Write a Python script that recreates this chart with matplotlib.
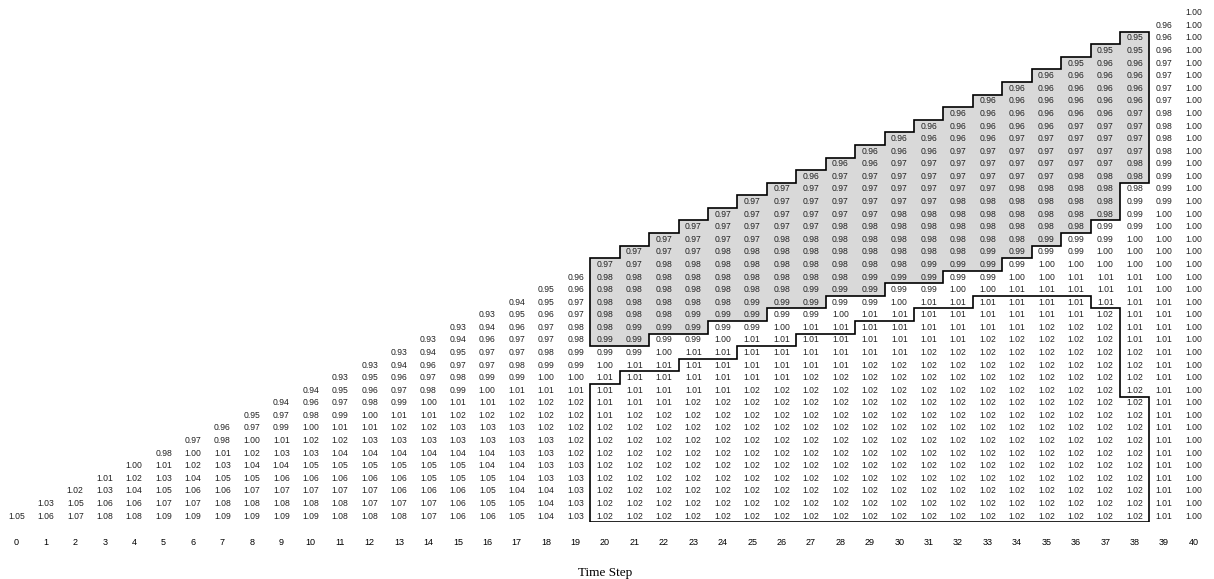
import matplotlib.pyplot as plt
from matplotlib.patches import Polygon

# values per time step, listed from the bottom row upward
col_00 = [1.05]
col_01 = [1.06, 1.03]
col_02 = [1.07, 1.05, 1.02]
col_03 = [1.08, 1.06, 1.03, 1.01]
col_04 = [1.08, 1.06, 1.04, 1.02, 1.00]
col_05 = [1.09, 1.07, 1.05, 1.03, 1.01, 0.98]
col_06 = [1.09, 1.07, 1.06, 1.04, 1.02, 1.00, 0.97]
col_07 = [1.09, 1.08, 1.06, 1.05, 1.03, 1.01, 0.98, 0.96]
col_08 = [1.09, 1.08, 1.07, 1.05, 1.04, 1.02, 1.00, 0.97, 0.95]
col_09 = [1.09, 1.08, 1.07, 1.06, 1.04, 1.03, 1.01, 0.99, 0.97, 0.94]
col_10 = [1.09, 1.08, 1.07, 1.06, 1.05, 1.03, 1.02, 1.00, 0.98, 0.96, 0.94]
col_11 = [1.08, 1.08, 1.07, 1.06, 1.05, 1.04, 1.02, 1.01, 0.99, 0.97, 0.95, 0.93]
col_12 = [1.08, 1.07, 1.07, 1.06, 1.05, 1.04, 1.03, 1.01, 1.00, 0.98, 0.96, 0.95,
          0.93]
col_13 = [1.08, 1.07, 1.06, 1.06, 1.05, 1.04, 1.03, 1.02, 1.01, 0.99, 0.97, 0.96,
          0.94, 0.93]
col_14 = [1.07, 1.07, 1.06, 1.05, 1.05, 1.04, 1.03, 1.02, 1.01, 1.00, 0.98, 0.97,
          0.96, 0.94, 0.93]
col_15 = [1.06, 1.06, 1.06, 1.05, 1.05, 1.04, 1.03, 1.03, 1.02, 1.01, 0.99, 0.98,
          0.97, 0.95, 0.94, 0.93]
col_16 = [1.06, 1.05, 1.05, 1.05, 1.04, 1.04, 1.03, 1.03, 1.02, 1.01, 1.00, 0.99,
          0.97, 0.97, 0.96, 0.94, 0.93]
col_17 = [1.05, 1.05, 1.04, 1.04, 1.04, 1.03, 1.03, 1.03, 1.02, 1.02, 1.01, 0.99,
          0.98, 0.97, 0.97, 0.96, 0.95, 0.94]
col_18 = [1.04, 1.04, 1.04, 1.03, 1.03, 1.03, 1.03, 1.02, 1.02, 1.02, 1.01, 1.00,
          0.99, 0.98, 0.97, 0.97, 0.96, 0.95, 0.95]
col_19 = [1.03, 1.03, 1.03, 1.03, 1.03, 1.02, 1.02, 1.02, 1.02, 1.02, 1.01, 1.00,
          0.99, 0.99, 0.98, 0.98, 0.97, 0.97, 0.96, 0.96]
col_20 = [1.02, 1.02, 1.02, 1.02, 1.02, 1.02, 1.02, 1.02, 1.01, 1.01, 1.01, 1.01,
          1.00, 0.99, 0.99, 0.98, 0.98, 0.98, 0.98, 0.98, 0.97]
col_21 = [1.02, 1.02, 1.02, 1.02, 1.02, 1.02, 1.02, 1.02, 1.02, 1.01, 1.01, 1.01,
          1.01, 0.99, 0.99, 0.99, 0.98, 0.98, 0.98, 0.98, 0.97, 0.97]
col_22 = [1.02, 1.02, 1.02, 1.02, 1.02, 1.02, 1.02, 1.02, 1.02, 1.01, 1.01, 1.01,
          1.01, 1.00, 0.99, 0.99, 0.98, 0.98, 0.98, 0.98, 0.98, 0.97, 0.97]
col_23 = [1.02, 1.02, 1.02, 1.02, 1.02, 1.02, 1.02, 1.02, 1.02, 1.02, 1.01, 1.01,
          1.01, 1.01, 0.99, 0.99, 0.99, 0.98, 0.98, 0.98, 0.98, 0.97, 0.97, 0.97]
col_24 = [1.02, 1.02, 1.02, 1.02, 1.02, 1.02, 1.02, 1.02, 1.02, 1.02, 1.01, 1.01,
          1.01, 1.01, 1.00, 0.99, 0.99, 0.98, 0.98, 0.98, 0.98, 0.98, 0.97, 0.97,
          0.97]
col_25 = [1.02, 1.02, 1.02, 1.02, 1.02, 1.02, 1.02, 1.02, 1.02, 1.02, 1.02, 1.01,
          1.01, 1.01, 1.01, 0.99, 0.99, 0.99, 0.98, 0.98, 0.98, 0.98, 0.97, 0.97,
          0.97, 0.97]
col_26 = [1.02, 1.02, 1.02, 1.02, 1.02, 1.02, 1.02, 1.02, 1.02, 1.02, 1.02, 1.01,
          1.01, 1.01, 1.01, 1.00, 0.99, 0.99, 0.98, 0.98, 0.98, 0.98, 0.98, 0.97,
          0.97, 0.97, 0.97]
col_27 = [1.02, 1.02, 1.02, 1.02, 1.02, 1.02, 1.02, 1.02, 1.02, 1.02, 1.02, 1.02,
          1.01, 1.01, 1.01, 1.01, 0.99, 0.99, 0.99, 0.98, 0.98, 0.98, 0.98, 0.97,
          0.97, 0.97, 0.97, 0.96]
col_28 = [1.02, 1.02, 1.02, 1.02, 1.02, 1.02, 1.02, 1.02, 1.02, 1.02, 1.02, 1.02,
          1.01, 1.01, 1.01, 1.01, 1.00, 0.99, 0.99, 0.98, 0.98, 0.98, 0.98, 0.98,
          0.97, 0.97, 0.97, 0.97, 0.96]
col_29 = [1.02, 1.02, 1.02, 1.02, 1.02, 1.02, 1.02, 1.02, 1.02, 1.02, 1.02, 1.02,
          1.02, 1.01, 1.01, 1.01, 1.01, 0.99, 0.99, 0.99, 0.98, 0.98, 0.98, 0.98,
          0.97, 0.97, 0.97, 0.97, 0.96, 0.96]
col_30 = [1.02, 1.02, 1.02, 1.02, 1.02, 1.02, 1.02, 1.02, 1.02, 1.02, 1.02, 1.02,
          1.02, 1.01, 1.01, 1.01, 1.01, 1.00, 0.99, 0.99, 0.98, 0.98, 0.98, 0.98,
          0.98, 0.97, 0.97, 0.97, 0.97, 0.96, 0.96]
col_31 = [1.02, 1.02, 1.02, 1.02, 1.02, 1.02, 1.02, 1.02, 1.02, 1.02, 1.02, 1.02,
          1.02, 1.02, 1.01, 1.01, 1.01, 1.01, 0.99, 0.99, 0.99, 0.98, 0.98, 0.98,
          0.98, 0.97, 0.97, 0.97, 0.97, 0.96, 0.96, 0.96]
col_32 = [1.02, 1.02, 1.02, 1.02, 1.02, 1.02, 1.02, 1.02, 1.02, 1.02, 1.02, 1.02,
          1.02, 1.02, 1.01, 1.01, 1.01, 1.01, 1.00, 0.99, 0.99, 0.98, 0.98, 0.98,
          0.98, 0.98, 0.97, 0.97, 0.97, 0.97, 0.96, 0.96, 0.96]
col_33 = [1.02, 1.02, 1.02, 1.02, 1.02, 1.02, 1.02, 1.02, 1.02, 1.02, 1.02, 1.02,
          1.02, 1.02, 1.02, 1.01, 1.01, 1.01, 1.00, 0.99, 0.99, 0.99, 0.98, 0.98,
          0.98, 0.98, 0.97, 0.97, 0.97, 0.97, 0.96, 0.96, 0.96, 0.96]
col_34 = [1.02, 1.02, 1.02, 1.02, 1.02, 1.02, 1.02, 1.02, 1.02, 1.02, 1.02, 1.02,
          1.02, 1.02, 1.02, 1.01, 1.01, 1.01, 1.01, 1.00, 0.99, 0.99, 0.98, 0.98,
          0.98, 0.98, 0.98, 0.97, 0.97, 0.97, 0.97, 0.96, 0.96, 0.96, 0.96]
col_35 = [1.02, 1.02, 1.02, 1.02, 1.02, 1.02, 1.02, 1.02, 1.02, 1.02, 1.02, 1.02,
          1.02, 1.02, 1.02, 1.02, 1.01, 1.01, 1.01, 1.00, 1.00, 0.99, 0.99, 0.98,
          0.98, 0.98, 0.98, 0.97, 0.97, 0.97, 0.97, 0.96, 0.96, 0.96, 0.96, 0.96]
col_36 = [1.02, 1.02, 1.02, 1.02, 1.02, 1.02, 1.02, 1.02, 1.02, 1.02, 1.02, 1.02,
          1.02, 1.02, 1.02, 1.02, 1.01, 1.01, 1.01, 1.01, 1.00, 0.99, 0.99, 0.98,
          0.98, 0.98, 0.98, 0.98, 0.97, 0.97, 0.97, 0.97, 0.96, 0.96, 0.96, 0.96,
          0.95]
col_37 = [1.02, 1.02, 1.02, 1.02, 1.02, 1.02, 1.02, 1.02, 1.02, 1.02, 1.02, 1.02,
          1.02, 1.02, 1.02, 1.02, 1.02, 1.01, 1.01, 1.01, 1.00, 1.00, 0.99, 0.99,
          0.98, 0.98, 0.98, 0.98, 0.97, 0.97, 0.97, 0.97, 0.96, 0.96, 0.96, 0.96,
          0.96, 0.95]
col_38 = [1.02, 1.02, 1.02, 1.02, 1.02, 1.02, 1.02, 1.02, 1.02, 1.02, 1.02, 1.02,
          1.02, 1.02, 1.01, 1.01, 1.01, 1.01, 1.01, 1.01, 1.00, 1.00, 1.00, 0.99,
          0.99, 0.99, 0.98, 0.98, 0.98, 0.97, 0.97, 0.97, 0.97, 0.96, 0.96, 0.96,
          0.96, 0.95, 0.95]
col_39 = [1.01, 1.01, 1.01, 1.01, 1.01, 1.01, 1.01, 1.01, 1.01, 1.01, 1.01, 1.01,
          1.01, 1.01, 1.01, 1.01, 1.01, 1.01, 1.00, 1.00, 1.00, 1.00, 1.00, 1.00,
          1.00, 0.99, 0.99, 0.99, 0.99, 0.98, 0.98, 0.98, 0.98, 0.97, 0.97, 0.97,
          0.97, 0.96, 0.96, 0.96]
col_40 = [1.00, 1.00, 1.00, 1.00, 1.00, 1.00, 1.00, 1.00, 1.00, 1.00, 1.00, 1.00,
          1.00, 1.00, 1.00, 1.00, 1.00, 1.00, 1.00, 1.00, 1.00, 1.00, 1.00, 1.00,
          1.00, 1.00, 1.00, 1.00, 1.00, 1.00, 1.00, 1.00, 1.00, 1.00, 1.00, 1.00,
          1.00, 1.00, 1.00, 1.00, 1.00]

columns = [col_00, col_01, col_02, col_03, col_04, col_05, col_06, col_07, col_08,
           col_09, col_10, col_11, col_12, col_13, col_14, col_15, col_16, col_17,
           col_18, col_19, col_20, col_21, col_22, col_23, col_24, col_25, col_26,
           col_27, col_28, col_29, col_30, col_31, col_32, col_33, col_34, col_35,
           col_36, col_37, col_38, col_39, col_40]
time_steps = list(range(len(columns)))

# marked blocks: time steps 20..38
block_steps = list(range(20, 39))
# lowest row of the grey block in each of those steps
shade_bottom = [14, 14, 15, 15, 16, 16, 17, 17, 18, 18, 19, 19, 20, 20, 21, 22, 23, 24, 27]
# highest row of the lower outlined block
box_top = [10, 11, 11, 12, 12, 13, 13, 14, 14, 15, 15, 16, 16, 17, 17, 17, 17, 16, 9]

plt.rcParams['font.family'] = 'Liberation Sans'

fig = plt.figure(figsize=(12.14, 5.79), dpi=100)
ax = fig.add_axes([0.0014, 0.0979, 0.9939, 0.8908])
ax.set_xlim(-0.5, 40.5)
ax.set_ylim(-0.5, 40.5)

# grey block: top follows the triangle edge, bottom is a staircase
pts = [(19.5, block_steps[0] + 0.5)]
for c in block_steps:
    pts.append((c - 0.5, c + 0.5))
    pts.append((c + 0.5, c + 0.5))
for c, b in zip(reversed(block_steps), reversed(shade_bottom)):
    pts.append((c + 0.5, b - 0.5))
    pts.append((c - 0.5, b - 0.5))
ax.add_patch(Polygon(pts, closed=True, facecolor='#d9d9d9', edgecolor='black',
                     linewidth=1.2, joinstyle='miter', zorder=1))

# lower outlined block
pts = [(19.5, -0.5)]
for c, t in zip(block_steps, box_top):
    pts.append((c - 0.5, t + 0.5))
    pts.append((c + 0.5, t + 0.5))
pts.append((block_steps[-1] + 0.5, -0.5))
ax.add_patch(Polygon(pts, closed=True, facecolor='none', edgecolor='black',
                     linewidth=1.2, joinstyle='miter', zorder=1))

for step, vals in zip(time_steps, columns):
    for row, v in enumerate(vals):
        ax.text(step, row, f'{v:.2f}', ha='center', va='center',
                fontsize=6.2, color='#222222', zorder=2)

ax.set_xticks(time_steps)
ax.set_yticks([])
ax.tick_params(axis='x', length=0, pad=11, labelsize=6.5)
for s in ax.spines.values():
    s.set_visible(False)
ax.set_xlabel('Time Step', fontfamily='Liberation Serif', fontsize=9.5, labelpad=14.5)

plt.savefig('out.png', dpi=100)
